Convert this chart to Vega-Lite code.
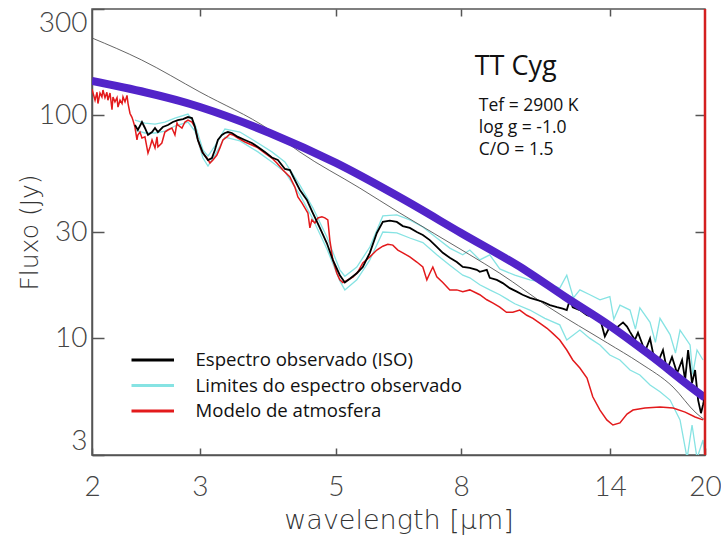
{
  "$schema": "https://vega.github.io/schema/vega-lite/v6.json",
  "width": 613,
  "height": 446,
  "autosize": {"type": "none"},
  "padding": {"left": 92, "top": 9, "right": 16, "bottom": 83},
  "background": "white",
  "config": {
    "view": {"stroke": "#555", "strokeWidth": 1.5},
    "axis": {"labelFont": "Lato", "labelFontWeight": 300, "labelFontSize": 28, "labelColor": "#444", "titleFont": "DejaVu Sans", "titleFontWeight": 200, "titleColor": "#333", "tickColor": "#555", "domainColor": "#555", "grid": false, "domainWidth": 1.5, "tickWidth": 1.5, "labelFlush": false, "labelOverlap": false}
  },
  "datasets": {
    "obs": [
      {"wl":2.35,"flux":90.5},{"wl":2.376,"flux":86.0},{"wl":2.413,"flux":93.4},{"wl":2.44,"flux":87.8},{"wl":2.468,"flux":81.7},{"wl":2.506,"flux":84.2},{"wl":2.534,"flux":87.8},{"wl":2.562,"flux":84.2},{"wl":2.61,"flux":88.7},{"wl":2.66,"flux":90.5},{"wl":2.71,"flux":93.4},{"wl":2.762,"flux":95.3},{"wl":2.815,"flux":96.3},{"wl":2.868,"flux":98.3},{"wl":2.911,"flux":97.3},{"wl":2.944,"flux":88.7},{"wl":2.977,"flux":77.6},{"wl":3.034,"flux":67.8},{"wl":3.092,"flux":63.1},{"wl":3.138,"flux":64.4},{"wl":3.173,"flux":70.0},{"wl":3.209,"flux":77.6},{"wl":3.258,"flux":81.7},{"wl":3.295,"flux":83.4},{"wl":3.332,"flux":84.2},{"wl":3.382,"flux":83.4},{"wl":3.46,"flux":80.1},{"wl":3.552,"flux":77.6},{"wl":3.646,"flux":75.2},{"wl":3.73,"flux":72.2},{"wl":3.829,"flux":68.6},{"wl":3.931,"flux":64.7},{"wl":4.02,"flux":63.1},{"wl":4.128,"flux":57.5},{"wl":4.206,"flux":56.9},{"wl":4.285,"flux":51.3},{"wl":4.367,"flux":46.3},{"wl":4.483,"flux":41.8},{"wl":4.585,"flux":36.5},{"wl":4.707,"flux":31.3},{"wl":4.833,"flux":26.7},{"wl":4.942,"flux":22.5},{"wl":5.074,"flux":19.2},{"wl":5.17,"flux":17.8},{"wl":5.268,"flux":18.5},{"wl":5.408,"flux":19.6},{"wl":5.531,"flux":20.9},{"wl":5.679,"flux":24.2},{"wl":5.83,"flux":29.7},{"wl":5.963,"flux":33.3},{"wl":6.122,"flux":33.7},{"wl":6.285,"flux":33.3},{"wl":6.428,"flux":31.9},{"wl":6.599,"flux":31.3},{"wl":6.775,"flux":30.0},{"wl":6.93,"flux":29.1},{"wl":7.114,"flux":27.6},{"wl":7.303,"flux":25.7},{"wl":7.47,"flux":24.2},{"wl":7.669,"flux":23.0},{"wl":7.873,"flux":22.0},{"wl":8.052,"flux":20.9},{"wl":8.267,"flux":20.7},{"wl":8.487,"flux":20.3},{"wl":8.583,"flux":19.9},{"wl":8.812,"flux":20.3},{"wl":8.911,"flux":18.7},{"wl":9.149,"flux":18.3},{"wl":9.357,"flux":17.7},{"wl":9.606,"flux":16.8},{"wl":9.863,"flux":16.2},{"wl":10.08,"flux":15.7},{"wl":10.36,"flux":15.2},{"wl":10.63,"flux":14.9},{"wl":10.87,"flux":14.6},{"wl":11.17,"flux":14.1},{"wl":11.47,"flux":13.8},{"wl":11.72,"flux":13.6},{"wl":11.9,"flux":13.4},{"wl":12.04,"flux":14.9},{"wl":12.17,"flux":13.8},{"wl":12.5,"flux":13.4},{"wl":12.84,"flux":12.7},{"wl":13.12,"flux":12.5},{"wl":13.48,"flux":12.3},{"wl":13.73,"flux":10.2},{"wl":13.99,"flux":11.3},{"wl":14.37,"flux":11.2},{"wl":14.7,"flux":11.8},{"wl":14.92,"flux":11.3},{"wl":15.09,"flux":10.7},{"wl":15.37,"flux":9.84},{"wl":15.55,"flux":10.6},{"wl":15.78,"flux":9.54},{"wl":15.96,"flux":8.7},{"wl":16.27,"flux":10.0},{"wl":16.45,"flux":8.6},{"wl":16.76,"flux":7.8},{"wl":17.08,"flux":8.87},{"wl":17.34,"flux":7.21},{"wl":17.67,"flux":8.25},{"wl":18.01,"flux":6.98},{"wl":18.35,"flux":8.0},{"wl":18.56,"flux":6.51},{"wl":18.77,"flux":8.87},{"wl":19.05,"flux":6.3},{"wl":19.27,"flux":7.21},{"wl":19.49,"flux":5.29},{"wl":19.7,"flux":4.62},{"wl":19.85,"flux":5.03},{"wl":20,"flux":5.57}
    ],
    "model": [
      {"wl":2.0,"flux":131},{"wl":2.023,"flux":117},{"wl":2.038,"flux":127},{"wl":2.045,"flux":113},{"wl":2.061,"flux":126},{"wl":2.076,"flux":121},{"wl":2.084,"flux":130},{"wl":2.1,"flux":120},{"wl":2.115,"flux":127},{"wl":2.123,"flux":117},{"wl":2.14,"flux":126},{"wl":2.156,"flux":106},{"wl":2.164,"flux":121},{"wl":2.18,"flux":115},{"wl":2.197,"flux":120},{"wl":2.205,"flux":109},{"wl":2.222,"flux":117},{"wl":2.239,"flux":113},{"wl":2.247,"flux":121},{"wl":2.264,"flux":115},{"wl":2.281,"flux":123},{"wl":2.29,"flux":113},{"wl":2.307,"flux":102},{"wl":2.324,"flux":98},{"wl":2.333,"flux":95},{"wl":2.35,"flux":88.7},{"wl":2.368,"flux":77.6},{"wl":2.376,"flux":81.7},{"wl":2.395,"flux":84.2},{"wl":2.413,"flux":79.1},{"wl":2.44,"flux":80.1},{"wl":2.468,"flux":67.8},{"wl":2.487,"flux":72.2},{"wl":2.506,"flux":77.6},{"wl":2.534,"flux":71.5},{"wl":2.553,"flux":80.1},{"wl":2.562,"flux":72.2},{"wl":2.6,"flux":75.2},{"wl":2.63,"flux":84.2},{"wl":2.66,"flux":86.0},{"wl":2.7,"flux":87.8},{"wl":2.731,"flux":81.7},{"wl":2.752,"flux":92.4},{"wl":2.762,"flux":90.5},{"wl":2.804,"flux":87.8},{"wl":2.836,"flux":93.4},{"wl":2.868,"flux":95.3},{"wl":2.911,"flux":93.4},{"wl":2.944,"flux":88.7},{"wl":2.977,"flux":77.6},{"wl":3.023,"flux":68.6},{"wl":3.08,"flux":64.4},{"wl":3.115,"flux":61.2},{"wl":3.15,"flux":63.1},{"wl":3.197,"flux":66.4},{"wl":3.234,"flux":71.5},{"wl":3.27,"flux":77.6},{"wl":3.32,"flux":80.1},{"wl":3.357,"flux":82.5},{"wl":3.395,"flux":81.7},{"wl":3.46,"flux":79.1},{"wl":3.552,"flux":76.0},{"wl":3.646,"flux":73.7},{"wl":3.73,"flux":71.5},{"wl":3.829,"flux":67.8},{"wl":3.931,"flux":64.4},{"wl":4.005,"flux":61.2},{"wl":4.097,"flux":56.9},{"wl":4.206,"flux":53.0},{"wl":4.285,"flux":47.7},{"wl":4.334,"flux":43.1},{"wl":4.4,"flux":40.5},{"wl":4.449,"flux":38.5},{"wl":4.5,"flux":36.5},{"wl":4.534,"flux":31.3},{"wl":4.568,"flux":34.0},{"wl":4.62,"flux":32.9},{"wl":4.672,"flux":34.7},{"wl":4.743,"flux":35.1},{"wl":4.796,"flux":34.7},{"wl":4.85,"flux":34.0},{"wl":4.887,"flux":27.6},{"wl":4.942,"flux":22.5},{"wl":5.017,"flux":19.6},{"wl":5.074,"flux":18.3},{"wl":5.131,"flux":17.8},{"wl":5.229,"flux":18.3},{"wl":5.328,"flux":18.8},{"wl":5.43,"flux":19.9},{"wl":5.531,"flux":21.8},{"wl":5.679,"flux":23.2},{"wl":5.83,"flux":24.9},{"wl":5.963,"flux":25.9},{"wl":6.076,"flux":26.4},{"wl":6.191,"flux":26.2},{"wl":6.309,"flux":24.9},{"wl":6.428,"flux":24.2},{"wl":6.599,"flux":23.2},{"wl":6.775,"flux":22.0},{"wl":6.93,"flux":20.9},{"wl":7.035,"flux":18.3},{"wl":7.114,"flux":19.6},{"wl":7.195,"flux":20.9},{"wl":7.303,"flux":18.9},{"wl":7.47,"flux":17.8},{"wl":7.669,"flux":16.5},{"wl":7.873,"flux":16.5},{"wl":8.052,"flux":16.2},{"wl":8.267,"flux":16.5},{"wl":8.583,"flux":15.7},{"wl":8.812,"flux":14.9},{"wl":9.023,"flux":14.4},{"wl":9.252,"flux":13.8},{"wl":9.488,"flux":13.1},{"wl":9.716,"flux":13.1},{"wl":9.974,"flux":13.4},{"wl":10.24,"flux":12.7},{"wl":10.48,"flux":12.3},{"wl":10.75,"flux":11.7},{"wl":11.05,"flux":11.1},{"wl":11.3,"flux":10.5},{"wl":11.59,"flux":9.84},{"wl":11.9,"flux":8.87},{"wl":12.17,"flux":8.0},{"wl":12.5,"flux":7.36},{"wl":12.84,"flux":6.64},{"wl":13.12,"flux":5.47},{"wl":13.48,"flux":4.77},{"wl":13.83,"flux":4.31},{"wl":14.15,"flux":4.09},{"wl":14.53,"flux":4.18},{"wl":14.92,"flux":4.58},{"wl":15.26,"flux":4.77},{"wl":15.96,"flux":4.87},{"wl":16.89,"flux":4.92},{"wl":17.74,"flux":4.87},{"wl":18.56,"flux":4.67},{"wl":19.27,"flux":4.44},{"wl":19.85,"flux":4.31}
    ],
    "limits": [
      {"part":"upper","wl":2.35,"flux":95.3},{"part":"upper","wl":2.44,"flux":92.4},{"part":"upper","wl":2.534,"flux":91.4},{"part":"upper","wl":2.63,"flux":93.4},{"part":"upper","wl":2.731,"flux":97.3},{"part":"upper","wl":2.868,"flux":101.4},{"part":"upper","wl":2.944,"flux":91.4},{"part":"upper","wl":3.034,"flux":70.0},{"part":"upper","wl":3.092,"flux":65.7},{"part":"upper","wl":3.173,"flux":72.9},{"part":"upper","wl":3.295,"flux":86.9},{"part":"upper","wl":3.486,"flux":84.2},{"part":"upper","wl":3.73,"flux":75.2},{"part":"upper","wl":3.931,"flux":68.6},{"part":"upper","wl":4.128,"flux":61.8},{"part":"upper","wl":4.367,"flux":48.7},{"part":"upper","wl":4.585,"flux":38.5},{"part":"upper","wl":4.833,"flux":28.5},{"part":"upper","wl":5.074,"flux":20.3},{"part":"upper","wl":5.17,"flux":19.0},{"part":"upper","wl":5.408,"flux":20.9},{"part":"upper","wl":5.679,"flux":25.7},{"part":"upper","wl":5.963,"flux":35.4},{"part":"upper","wl":6.285,"flux":35.8},{"part":"upper","wl":6.599,"flux":34.0},{"part":"upper","wl":6.93,"flux":31.6},{"part":"upper","wl":7.303,"flux":28.2},{"part":"upper","wl":7.669,"flux":25.4},{"part":"upper","wl":8.052,"flux":23.7},{"part":"upper","wl":8.267,"flux":24.9},{"part":"upper","wl":8.583,"flux":22.5},{"part":"upper","wl":8.911,"flux":23.7},{"part":"upper","wl":9.252,"flux":20.5},{"part":"upper","wl":9.789,"flux":19.2},{"part":"upper","wl":10.36,"flux":18.3},{"part":"upper","wl":10.96,"flux":17.8},{"part":"upper","wl":11.59,"flux":16.8},{"part":"upper","wl":11.9,"flux":19.2},{"part":"upper","wl":12.2,"flux":15.2},{"part":"upper","wl":12.5,"flux":16.5},{"part":"upper","wl":12.98,"flux":15.7},{"part":"upper","wl":13.48,"flux":14.9},{"part":"upper","wl":13.99,"flux":15.4},{"part":"upper","wl":14.2,"flux":12.2},{"part":"upper","wl":14.53,"flux":14.1},{"part":"upper","wl":15.09,"flux":13.4},{"part":"upper","wl":15.4,"flux":11.0},{"part":"upper","wl":15.66,"flux":13.7},{"part":"upper","wl":16.27,"flux":11.8},{"part":"upper","wl":16.6,"flux":9.6},{"part":"upper","wl":16.89,"flux":12.3},{"part":"upper","wl":17.54,"flux":10.4},{"part":"upper","wl":17.9,"flux":8.6},{"part":"upper","wl":18.21,"flux":10.9},{"part":"upper","wl":18.91,"flux":9.34},{"part":"upper","wl":19.1,"flux":6.9},{"part":"upper","wl":19.41,"flux":8.87},{"part":"upper","wl":19.85,"flux":8.0},
      {"part":"lower","wl":2.35,"flux":86.0},{"part":"lower","wl":2.44,"flux":83.4},{"part":"lower","wl":2.534,"flux":83.4},{"part":"lower","wl":2.63,"flux":85.1},{"part":"lower","wl":2.731,"flux":89.6},{"part":"lower","wl":2.868,"flux":93.4},{"part":"lower","wl":2.944,"flux":85.1},{"part":"lower","wl":3.034,"flux":64.4},{"part":"lower","wl":3.092,"flux":59.3},{"part":"lower","wl":3.173,"flux":66.4},{"part":"lower","wl":3.295,"flux":79.9},{"part":"lower","wl":3.486,"flux":76.8},{"part":"lower","wl":3.73,"flux":68.6},{"part":"lower","wl":3.931,"flux":61.8},{"part":"lower","wl":4.128,"flux":55.8},{"part":"lower","wl":4.367,"flux":44.0},{"part":"lower","wl":4.585,"flux":34.3},{"part":"lower","wl":4.833,"flux":25.2},{"part":"lower","wl":5.074,"flux":18.1},{"part":"lower","wl":5.17,"flux":16.5},{"part":"lower","wl":5.408,"flux":18.3},{"part":"lower","wl":5.679,"flux":22.5},{"part":"lower","wl":5.963,"flux":30.0},{"part":"lower","wl":6.285,"flux":29.7},{"part":"lower","wl":6.599,"flux":28.2},{"part":"lower","wl":6.93,"flux":26.9},{"part":"lower","wl":7.303,"flux":23.7},{"part":"lower","wl":7.669,"flux":21.3},{"part":"lower","wl":8.052,"flux":19.2},{"part":"lower","wl":8.267,"flux":18.7},{"part":"lower","wl":8.583,"flux":17.4},{"part":"lower","wl":8.911,"flux":16.5},{"part":"lower","wl":9.252,"flux":15.7},{"part":"lower","wl":9.789,"flux":14.3},{"part":"lower","wl":10.36,"flux":13.4},{"part":"lower","wl":10.96,"flux":12.3},{"part":"lower","wl":11.59,"flux":11.5},{"part":"lower","wl":11.9,"flux":9.84},{"part":"lower","wl":12.5,"flux":10.9},{"part":"lower","wl":12.98,"flux":10.0},{"part":"lower","wl":13.48,"flux":9.34},{"part":"lower","wl":13.99,"flux":8.42},{"part":"lower","wl":14.53,"flux":8.0},{"part":"lower","wl":15.09,"flux":7.21},{"part":"lower","wl":15.66,"flux":6.85},{"part":"lower","wl":16.27,"flux":6.18},{"part":"lower","wl":16.89,"flux":5.76},{"part":"lower","wl":17.54,"flux":5.29},{"part":"lower","wl":18.21,"flux":4.31},{"part":"lower","wl":18.7,"flux":2.9},{"part":"lower","wl":19.05,"flux":4.09},{"part":"lower","wl":19.41,"flux":2.9},{"part":"lower","wl":19.85,"flux":3.5},{"part":"lower","wl":20,"flux":2.9}
    ],
    "fit": [
      {"wl":2.0,"flux":142.6},{"wl":3.0,"flux":109.0},{"wl":3.9,"flux":83.4},{"wl":5.0,"flux":61.2},{"wl":6.356,"flux":42.9},{"wl":8.0,"flux":29.7},{"wl":10.22,"flux":20.1},{"wl":11.81,"flux":15.4},{"wl":13.99,"flux":11.4},{"wl":16.27,"flux":8.42},{"wl":19.85,"flux":5.51},{"wl":20,"flux":5.43}
    ],
    "bb": [
      {"wl":2.0,"flux":222.4},{"wl":2.41,"flux":177.2},{"wl":3.0,"flux":127.3},{"wl":3.9,"flux":86.0},{"wl":4.367,"flux":68.5},{"wl":5.47,"flux":47.2},{"wl":6.356,"flux":36.5},{"wl":8.27,"flux":23.7},{"wl":9.252,"flux":19.6},{"wl":11.17,"flux":13.7},{"wl":13.86,"flux":9.54},{"wl":15.66,"flux":7.76},{"wl":17.74,"flux":6.05},{"wl":19.34,"flux":4.63},{"wl":20,"flux":4.3}
    ]
  },
  "resolve": {"axis": {"x": "independent", "y": "independent"}},
  "layer": [
    {
      "data": {"name": "limits"},
      "mark": {"type": "line", "strokeWidth": 1.3, "clip": true},
      "encoding": {
        "x": {"field": "wl", "type": "quantitative", "scale": {"type": "log", "domain": [2, 20], "nice": false},
              "axis": {"orient": "bottom", "values": [2, 3, 5, 8, 14, 20], "tickSize": -7, "labelPadding": 25, "title": "wavelength [μm]", "titleFontSize": 27, "titlePadding": 6}},
        "y": {"field": "flux", "type": "quantitative", "scale": {"type": "log", "domain": [3, 300], "nice": false},
              "axis": {"orient": "left", "values": [3, 10, 30, 100, 300], "tickSize": -12, "labelPadding": 17, "labelFlush": true, "title": "Fluxo (Jy)", "titleFontSize": 25, "titlePadding": -4}},
        "detail": {"field": "part"},
        "color": {"datum": "Limites do espectro observado", "type": "nominal",
                  "scale": {"domain": ["Espectro observado (ISO)", "Limites do espectro observado", "Modelo de atmosfera"], "range": ["#000000", "#86e3e3", "#e31a1c"]},
                  "legend": {"orient": "none", "legendX": 50.75, "legendY": 341, "title": null, "symbolType": "M-2.5,0L2.5,0", "symbolSize": 289, "symbolStrokeWidth": 3, "labelFont": "Open Sans", "labelFontSize": 18.6, "labelColor": "#111", "labelOffset": 32.75, "rowPadding": 5.5, "padding": 0, "labelLimit": 400}}
      }
    },
    {
      "data": {"name": "bb"},
      "mark": {"type": "line", "color": "#555", "strokeWidth": 0.9, "interpolate": "monotone", "clip": true},
      "encoding": {
        "x": {"field": "wl", "type": "quantitative", "scale": {"type": "log", "domain": [2, 20], "nice": false}, "axis": null},
        "y": {"field": "flux", "type": "quantitative", "scale": {"type": "log", "domain": [3, 300], "nice": false},
              "axis": {"orient": "right", "values": [10, 30, 100], "labels": false, "tickSize": -10, "domain": false, "title": null}}
      }
    },
    {
      "data": {"name": "model"},
      "mark": {"type": "line", "strokeWidth": 1.5, "clip": true},
      "encoding": {
        "x": {"field": "wl", "type": "quantitative", "scale": {"type": "log", "domain": [2, 20], "nice": false}, "axis": null},
        "y": {"field": "flux", "type": "quantitative", "scale": {"type": "log", "domain": [3, 300], "nice": false}, "axis": null},
        "color": {"datum": "Modelo de atmosfera", "type": "nominal"}
      }
    },
    {
      "data": {"name": "obs"},
      "mark": {"type": "line", "strokeWidth": 1.8, "clip": true},
      "encoding": {
        "x": {"field": "wl", "type": "quantitative", "scale": {"type": "log", "domain": [2, 20], "nice": false}, "axis": null},
        "y": {"field": "flux", "type": "quantitative", "scale": {"type": "log", "domain": [3, 300], "nice": false}, "axis": null},
        "color": {"datum": "Espectro observado (ISO)", "type": "nominal"}
      }
    },
    {
      "data": {"name": "fit"},
      "mark": {"type": "line", "color": "#5224c9", "strokeWidth": 8, "interpolate": "monotone", "clip": true},
      "encoding": {
        "x": {"field": "wl", "type": "quantitative", "scale": {"type": "log", "domain": [2, 20], "nice": false},
              "axis": {"orient": "top", "values": [3, 5, 8, 14], "labels": false, "tickSize": -7, "domain": false, "title": null}},
        "y": {"field": "flux", "type": "quantitative", "scale": {"type": "log", "domain": [3, 300], "nice": false}, "axis": null}
      }
    },
    {
      "data": {"values": [{}]},
      "mark": {"type": "rule", "color": "#d42020", "strokeWidth": 2.5},
      "encoding": {
        "x": {"datum": 20, "type": "quantitative", "scale": {"type": "log", "domain": [2, 20], "nice": false}, "axis": null}
      }
    },
    {
      "data": {"values": [{}]},
      "mark": {"type": "text", "font": "Open Sans", "fontSize": 27, "align": "left", "baseline": "alphabetic", "color": "#111"},
      "encoding": {
        "x": {"datum": 8.42, "type": "quantitative", "scale": {"type": "log", "domain": [2, 20], "nice": false}, "axis": null},
        "y": {"datum": 151.7, "type": "quantitative", "scale": {"type": "log", "domain": [3, 300], "nice": false}, "axis": null},
        "text": {"value": "TT Cyg"}
      }
    },
    {
      "data": {"values": [{}]},
      "mark": {"type": "text", "font": "Open Sans", "fontSize": 17.5, "align": "left", "baseline": "alphabetic", "color": "#111", "lineHeight": 22},
      "encoding": {
        "x": {"datum": 8.55, "type": "quantitative", "scale": {"type": "log", "domain": [2, 20], "nice": false}, "axis": null},
        "y": {"datum": 104.6, "type": "quantitative", "scale": {"type": "log", "domain": [3, 300], "nice": false}, "axis": null},
        "text": {"value": ["Tef = 2900 K", "log g = -1.0", "C/O = 1.5"]}
      }
    }
  ]
}
